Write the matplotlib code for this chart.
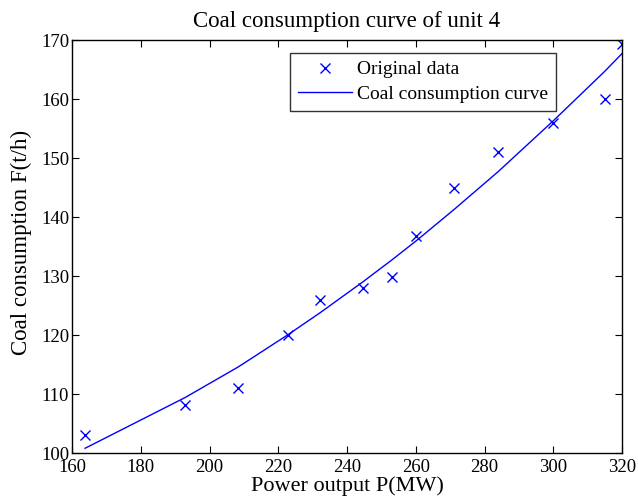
import matplotlib
matplotlib.use("Agg")
import matplotlib.pyplot as plt

power_mw = [163.7, 192.8, 208.3, 222.8, 232.1, 244.7, 253.0, 260.1, 271.1, 284.0, 299.8, 315.1, 320.1]
coal_data = [103.0, 108.1, 111.1, 120.0, 126.0, 128.0, 129.9, 136.8, 145.0, 151.0, 156.0, 160.0, 169.4]
curve_x = [163.8, 192.9, 208.4, 222.7, 232.0, 244.6, 253.0, 260.0, 271.0, 284.0, 300.0, 315.0, 320.0]
curve_y = [100.8, 109.4, 114.6, 120.0, 123.7, 129.0, 132.7, 135.9, 141.2, 147.7, 156.3, 164.7, 167.7]
x_ticks = [160, 180, 200, 220, 240, 260, 280, 300, 320]
y_ticks = [100, 110, 120, 130, 140, 150, 160, 170]

plt.rcParams['font.family'] = ['Liberation Serif', 'DejaVu Serif']
plt.rcParams['mathtext.fontset'] = 'stix'

W, H = 638, 497
L, R, T, B = 72, 622, 40, 453

fig = plt.figure(figsize=(W/100, H/100), dpi=100)
ax = fig.add_axes([L/W, 1 - B/H, (R-L)/W, (B-T)/H])

ax.plot(power_mw, coal_data, linestyle='none', marker='x', color='#0000ff',
        markersize=6.5, markeredgewidth=1.0, label='Original data')
ax.plot(curve_x, curve_y, color='#0000ff', linewidth=1.0, label='Coal consumption curve')

ax.set_xlim(160, 320)
ax.set_ylim(100, 170)
ax.set_xticks(x_ticks)
ax.set_yticks(y_ticks)
ax.tick_params(direction='in', length=5, width=0.8, top=True, right=True,
               labelsize=13.5, colors='black')
ax.tick_params(axis='x', pad=4)
ax.tick_params(axis='y', pad=2)
for s in ax.spines.values():
    s.set_linewidth(1.0)
    s.set_color('black')

ax.set_title('Coal consumption curve of unit 4', fontsize=16.5, pad=9.4)
ax.set_xlabel('Power output P(MW)', fontsize=16)
ax.xaxis.label.set_verticalalignment('baseline')
ax.xaxis.set_label_coords(0.5, (B - 491.5) / (B - T))
ax.set_ylabel('Coal consumption F(t/h)', fontsize=16.5)
ax.yaxis.label.set_verticalalignment('baseline')
ax.yaxis.set_label_coords((27 - L) / (R - L), 0.51)

leg = ax.legend(loc='upper left', bbox_to_anchor=((290 - L)/(R - L), (B - 53)/(B - T)),
                fontsize=14, frameon=True, fancybox=False, edgecolor='black',
                borderpad=0.4, handlelength=2.8, handletextpad=0.25, labelspacing=0.35,
                borderaxespad=0)
leg.get_frame().set_linewidth(1.0)

fig.savefig('out.png', dpi=100)
